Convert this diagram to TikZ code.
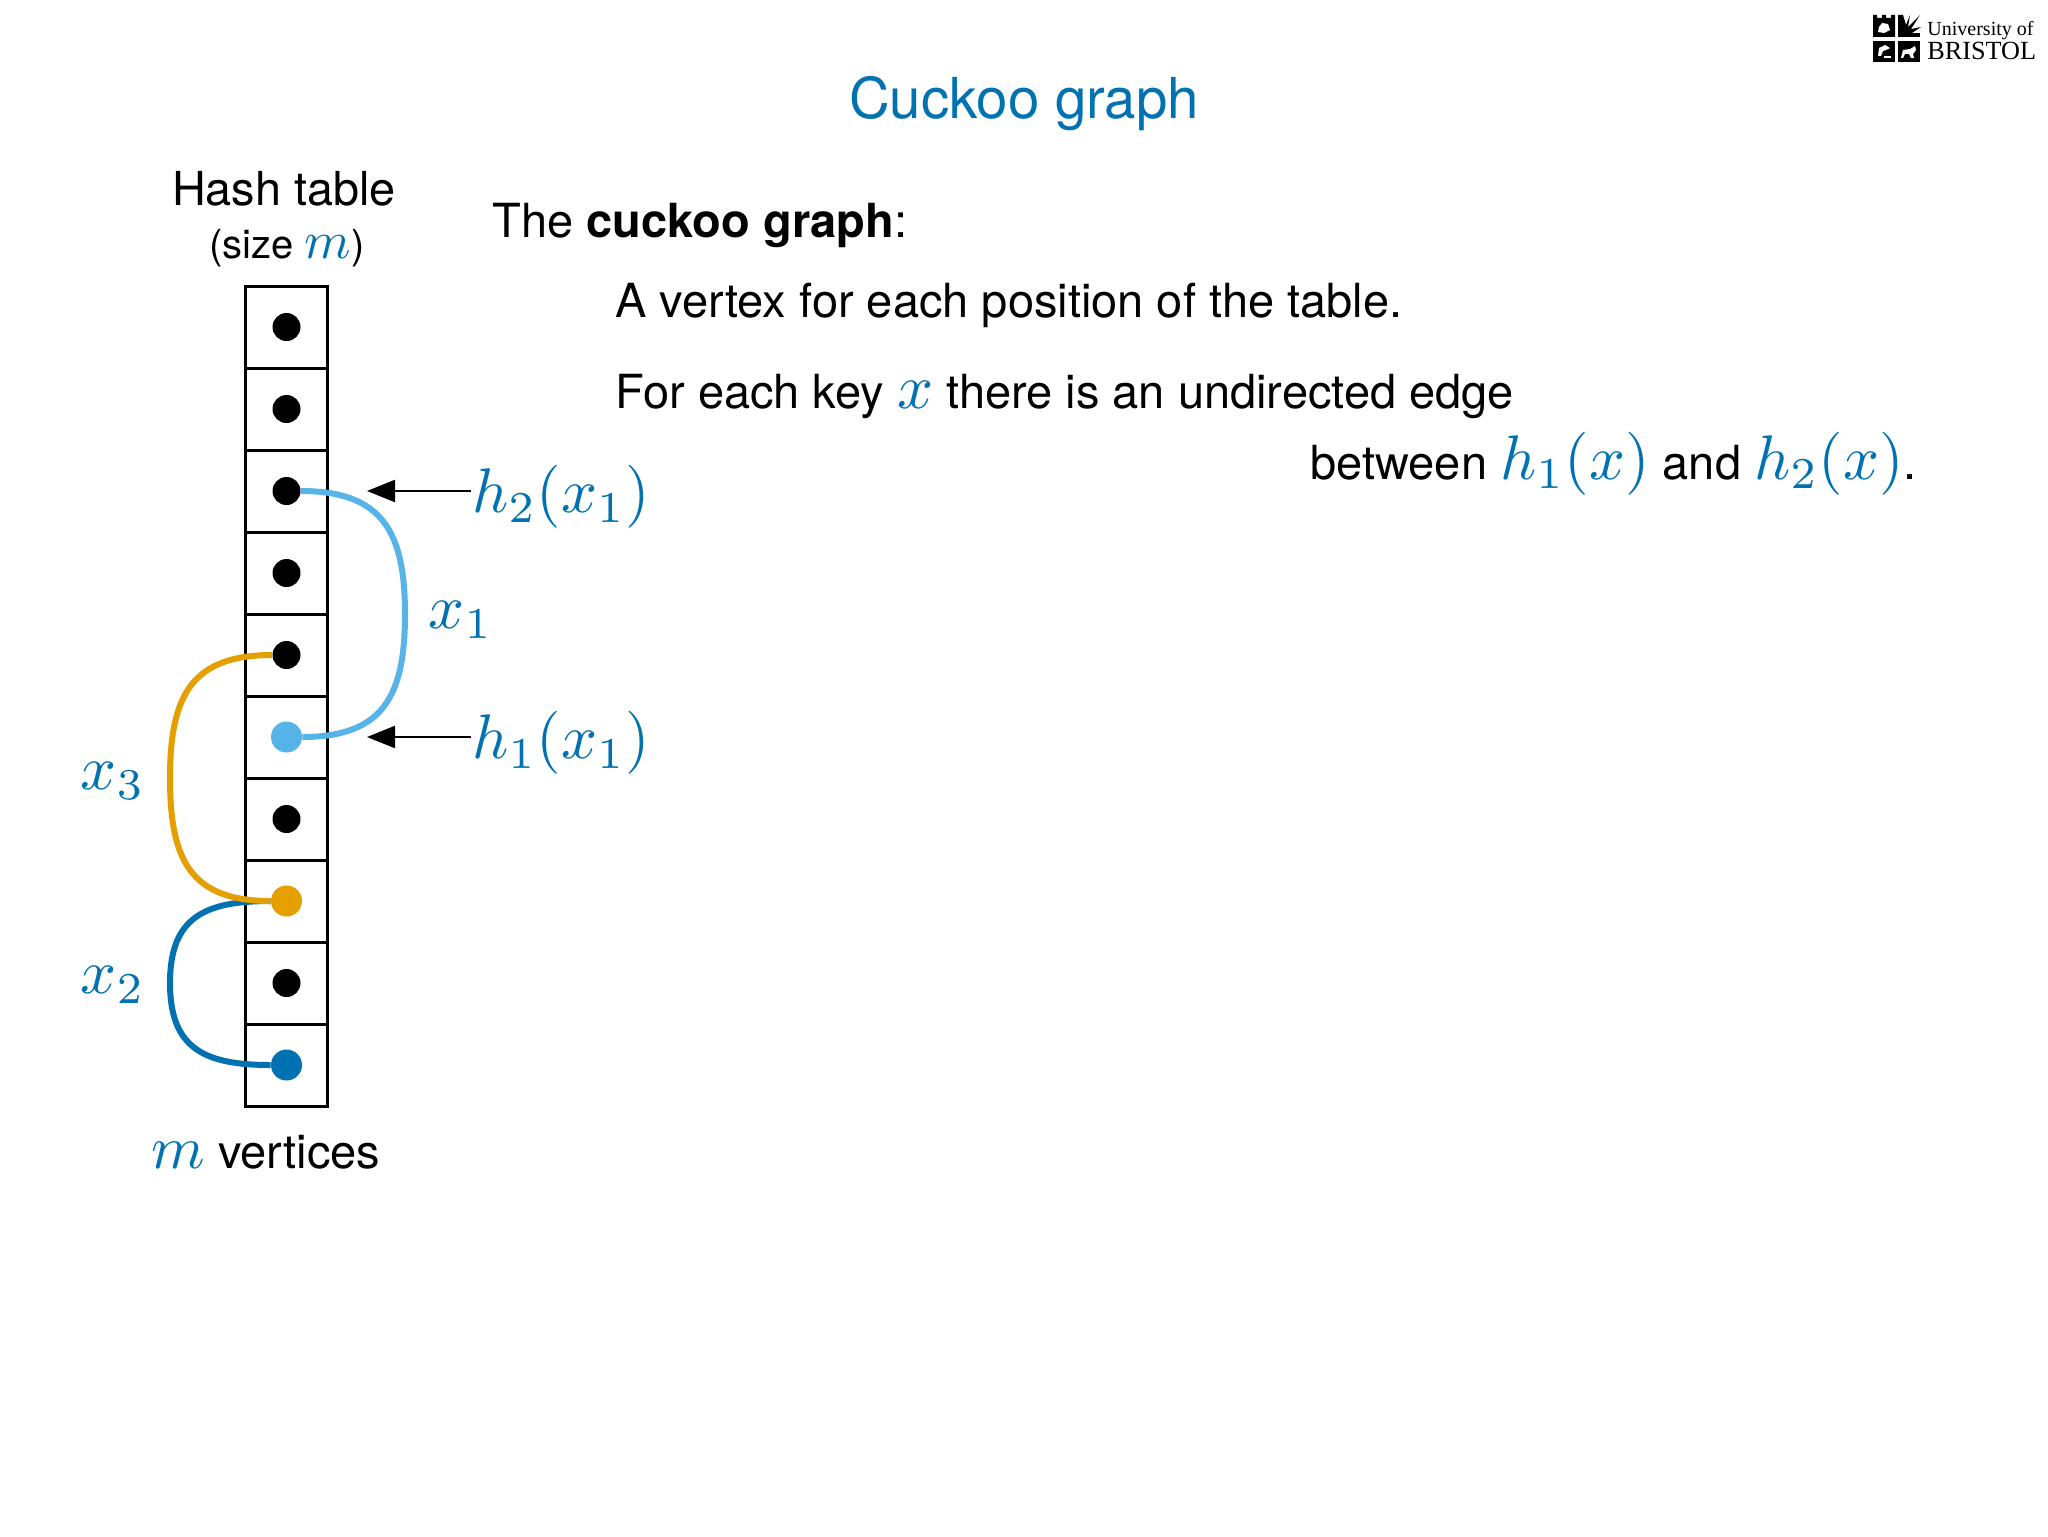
\RequirePackage{fix-cm}
\documentclass[tikz,border=0pt]{standalone}
\usepackage[no-math]{fontspec}
\setmainfont{TeX Gyre Heros}
\newfontfamily\logofont{Liberation Serif}
\usetikzlibrary{arrows.meta}
\definecolor{keyblue}{HTML}{0072B2}
\definecolor{skyblue}{HTML}{56B4E9}
\definecolor{keyorange}{HTML}{E69F00}
\newcommand{\keyterm}[2]{\scalebox{#1}{\fontsize{10}{12}\selectfont\color{keyblue}$#2$}}
\tikzset{
  bodytext/.style={anchor=base west,inner sep=0pt,font=\fontsize{23.5}{28}\selectfont},
  mathlabel/.style={inner sep=0pt,text=keyblue,font=\fontsize{10}{12}\selectfont,scale=3.15},
  cellbox/.style={draw,line width=1.5pt,minimum width=41pt,minimum height=41pt,inner sep=0pt},
  vertexdot/.style={circle,fill=black,minimum size=14pt,inner sep=0pt},
  keyedge/.style={line width=3pt,looseness=1.3},
  pointer/.style={line width=1.2pt,-{Triangle[length=14pt,width=11pt]}},
}
\begin{document}
\begin{tikzpicture}[x=0.5pt,y=-0.5pt]
\useasboundingbox (0,0) rectangle (2048,1536);
\node[text=keyblue,inner sep=0pt,font=\fontsize{28.2}{35}\selectfont] (title) at (1024,104) {Cuckoo graph};
\node[inner sep=0pt,font=\fontsize{23.4}{28}\selectfont] (tablehead) at (284,189) {Hash table};
\node[inner sep=0pt,font=\fontsize{20}{23}\selectfont] (tablesize) at (287,248) {(size \keyterm{2.65}{m})};
\node[bodytext] (intro) at (492,237) {The \textbf{cuckoo graph}:};
\node[bodytext] (vertexline) at (615,317) {A vertex for each position of the table.};
\node[bodytext] (edgeline) at (615,408) {For each key \keyterm{3.15}{x} there is an undirected edge};
\node[bodytext] (betweenline) at (1310,479) {between \keyterm{3.15}{h_1(x)} and \keyterm{3.15}{h_2(x)}.};
\foreach \i in {1,...,10} {
  \node[cellbox] (cell\i) at (286.5,245+82*\i) {};
}
\foreach \i in {1,2,3,4,5,7,9} {
  \node[vertexdot] (dot\i) at (cell\i) {};
}
\node[vertexdot,fill=skyblue,minimum size=15.5pt] (dot6) at (cell6) {};
\node[vertexdot,fill=keyorange,minimum size=15.5pt] (dot8) at (cell8) {};
\node[vertexdot,fill=keyblue,minimum size=15.5pt] (dot10) at (cell10) {};
\coordinate (bendone) at (405,614);
\coordinate (bendtwo) at (170,983);
\coordinate (bendthree) at (170,778);
\draw[keyedge,skyblue] (dot3) to[out=0,in=90] (bendone) to[out=-90,in=0] (dot6);
\draw[keyedge,keyblue] (dot8) to[out=180,in=90] (bendtwo) to[out=-90,in=180] (dot10);
\draw[keyedge,keyorange] (dot5) to[out=180,in=90] (bendthree) to[out=-90,in=180] (dot8);
\node[mathlabel,anchor=west] (htwo) at (471,497) {$h_2(x_1)$};
\node[mathlabel,anchor=west] (hone) at (471,743) {$h_1(x_1)$};
\coordinate (tiptwo) at (367,491);
\coordinate (tipone) at (367,737);
\draw[pointer] (htwo.west |- tiptwo) -- (tiptwo);
\draw[pointer] (hone.west |- tipone) -- (tipone);
\node[mathlabel] (xone) at (461,620) {$x_1$};
\node[mathlabel] (xthree) at (113,781) {$x_3$};
\node[mathlabel] (xtwo) at (113,985) {$x_2$};
\node[bodytext] (vertexcount) at (151,1168) {\keyterm{3.05}{m} vertices};
\fill (1873,15) -- (1873,37) -- (1895,37) -- (1895,15) -- (1891,15) -- (1891,18) -- (1886,18) -- (1886,15) -- (1882,15) -- (1882,18) -- (1877,18) -- (1877,15) -- cycle;
\fill (1898,37) rectangle (1920,33);
\fill (1898,37) -- (1898,15) -- (1903,15) -- (1906,25) -- (1910,15) -- (1908,27) -- (1920,15) -- (1911,29) -- (1921,27) -- (1912,33) -- cycle;
\fill (1873,41) rectangle (1895,62);
\fill (1898,41) rectangle (1920,62);
\fill[white] (1879,27) -- (1882,23) -- (1888,24) -- (1890,30) -- (1884,33) -- (1878,32) -- cycle;
\fill[white] (1878,56) -- (1879,48) -- (1885,45) -- (1890,48) -- (1886,50) -- (1883,51) -- (1881,56) -- cycle;
\fill[white] (1884,56) rectangle (1891,58);
\fill[white] (1903,50) -- (1910,49) -- (1915,46) -- (1916,50) -- (1913,54) -- (1914,58) -- (1911,58) -- (1909,54) -- (1905,54) -- (1903,58) -- (1901,58) -- cycle;
\node[anchor=base west,inner sep=0pt,font=\logofont\fontsize{10}{11}\selectfont] (logotop) at (1927,36) {University of};
\node[anchor=base west,inner sep=0pt,font=\logofont\fontsize{13.1}{15}\selectfont] (logobottom) at (1927,60) {BRISTOL};
\end{tikzpicture}
\end{document}
